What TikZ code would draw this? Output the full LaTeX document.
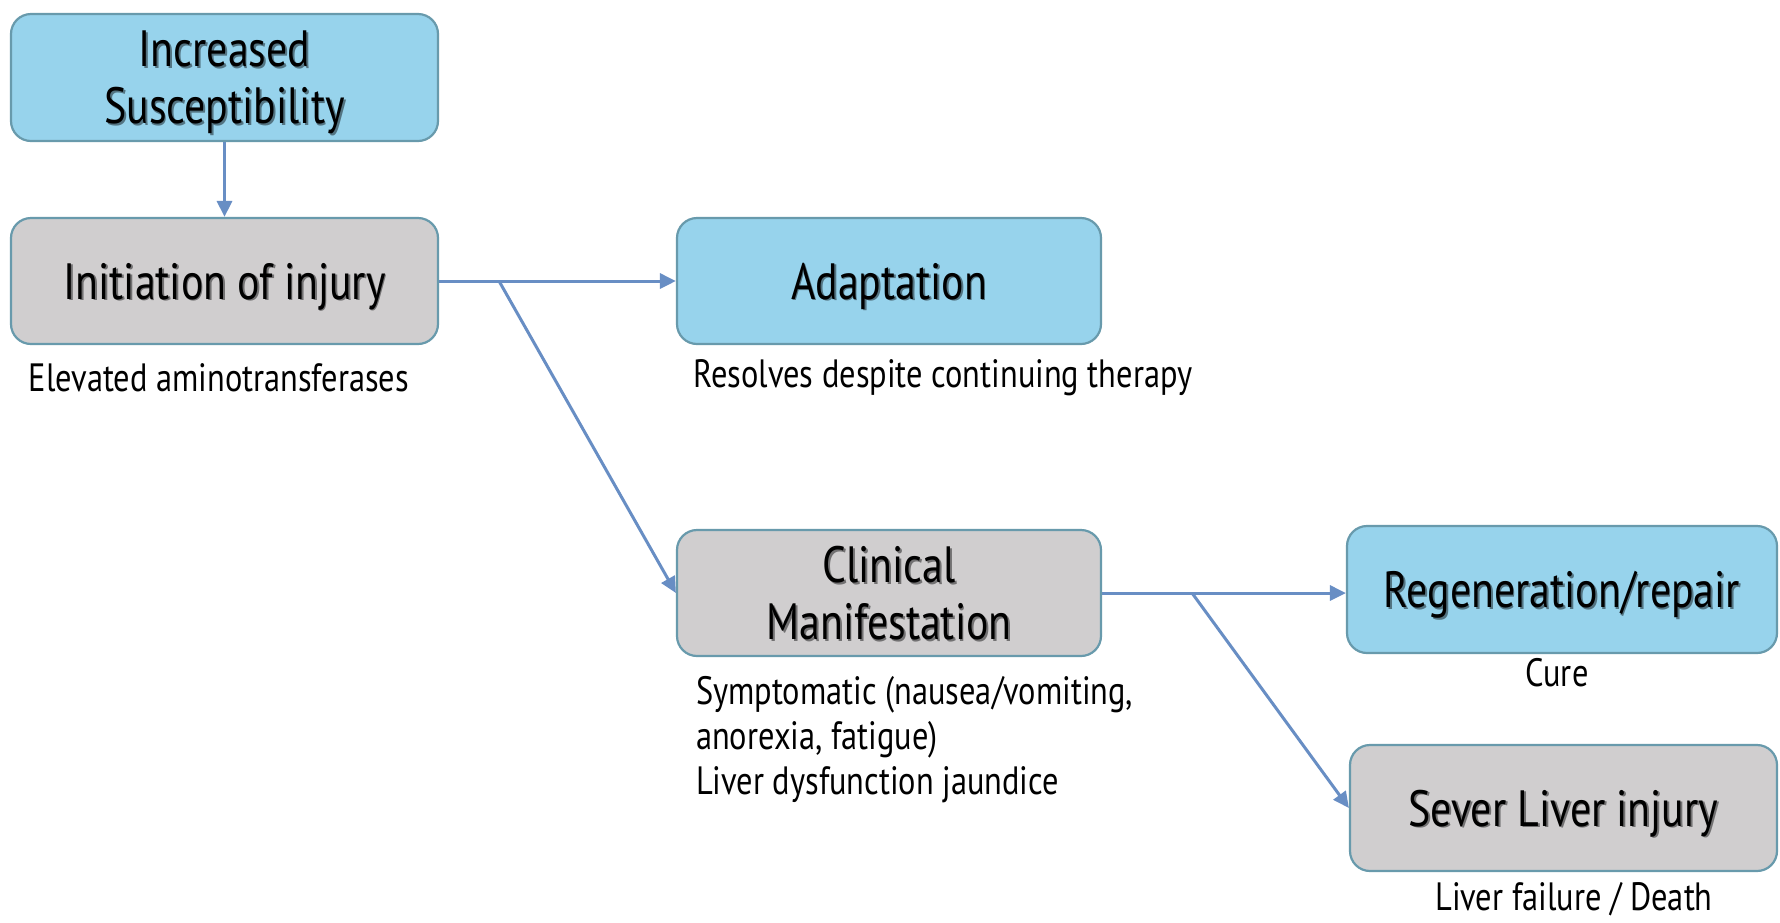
\documentclass[tikz,border=0pt]{standalone}
\usepackage{fontspec}
\setmainfont{PT Sans}[FakeStretch=0.82]
\usetikzlibrary{arrows.meta}
\definecolor{boxblue}{RGB}{151,211,236}
\definecolor{boxgray}{RGB}{208,206,207}
\definecolor{boxedge}{RGB}{104,154,172}
\definecolor{arrowc}{RGB}{104,142,196}
\colorlet{shadowc}{black!40!boxblue}
\newcommand\shd[1]{\raisebox{0pt}[\height][0pt]{\makebox[0pt][l]{\hspace{1.8pt}\raisebox{-1.8pt}{\textcolor{shadowc}{#1}}}#1}}
\tikzset{
  stagebox/.style={draw=boxedge, line width=2.2pt, rounded corners=20pt, align=center,
    font={\fontsize{51}{57}\selectfont}, text=black, inner sep=0pt},
  bluebox/.style={stagebox, fill=boxblue, execute at begin node={\colorlet{shadowc}{black!45!boxblue}}},
  graybox/.style={stagebox, fill=boxgray, execute at begin node={\colorlet{shadowc}{black!45!boxgray}}},
  lbl/.style={font={\fontsize{39.5}{45}\selectfont}, text=black, inner sep=0pt},
  conn/.style={draw=arrowc, line width=3pt},
  arr/.style={conn, -{Triangle[length=16pt,width=15pt]}}
}
\begin{document}
\begin{tikzpicture}[x=1pt,y=-1pt]
\useasboundingbox[fill=white] (0,0) rectangle (1780,922);
\node[bluebox, minimum width=427pt, minimum height=127pt] (incr) at (224.5,77.5) {\shd{Increased}\\\shd{Susceptibility}};
\node[graybox, minimum width=427pt, minimum height=126pt] (init) at (224.5,281) {\shd{Initiation of injury}};
\node[bluebox, minimum width=424pt, minimum height=126pt] (adapt) at (889,281) {\shd{Adaptation}};
\node[graybox, minimum width=424pt, minimum height=126pt] (clin) at (889,593) {\shd{Clinical}\\\shd{Manifestation}};
\node[bluebox, minimum width=430pt, minimum height=127pt] (regen) at (1562,589.5) {\shd{Regeneration/repair}};
\node[graybox, minimum width=427pt, minimum height=126pt] (sever) at (1563.5,808) {\shd{Sever Liver injury}};

\node[lbl] (elev) at (219,378) {Elevated aminotransferases};
\node[lbl] (resol) at (943,378) {Resolves despite continuing therapy};
\node[lbl, align=left, anchor=north west] (symp) at (696,676) {Symptomatic (nausea/vomiting,\\anorexia, fatigue)\\Liver dysfunction jaundice};
\node[lbl] (cure) at (1557,673) {Cure};
\node[lbl] (fail) at (1574,899) {Liver failure / Death};

\draw[arr] (incr) -- (init);
\draw[arr] (init.east) -- (adapt.west);
\coordinate (b1) at (499,281);
\draw[arr] (b1) -- (clin.west);
\draw[arr] (clin.east) -- (clin.east -| regen.west);
\coordinate (b2) at (1192,593);
\draw[arr] (b2) -- (sever.west);
\end{tikzpicture}
\end{document}
